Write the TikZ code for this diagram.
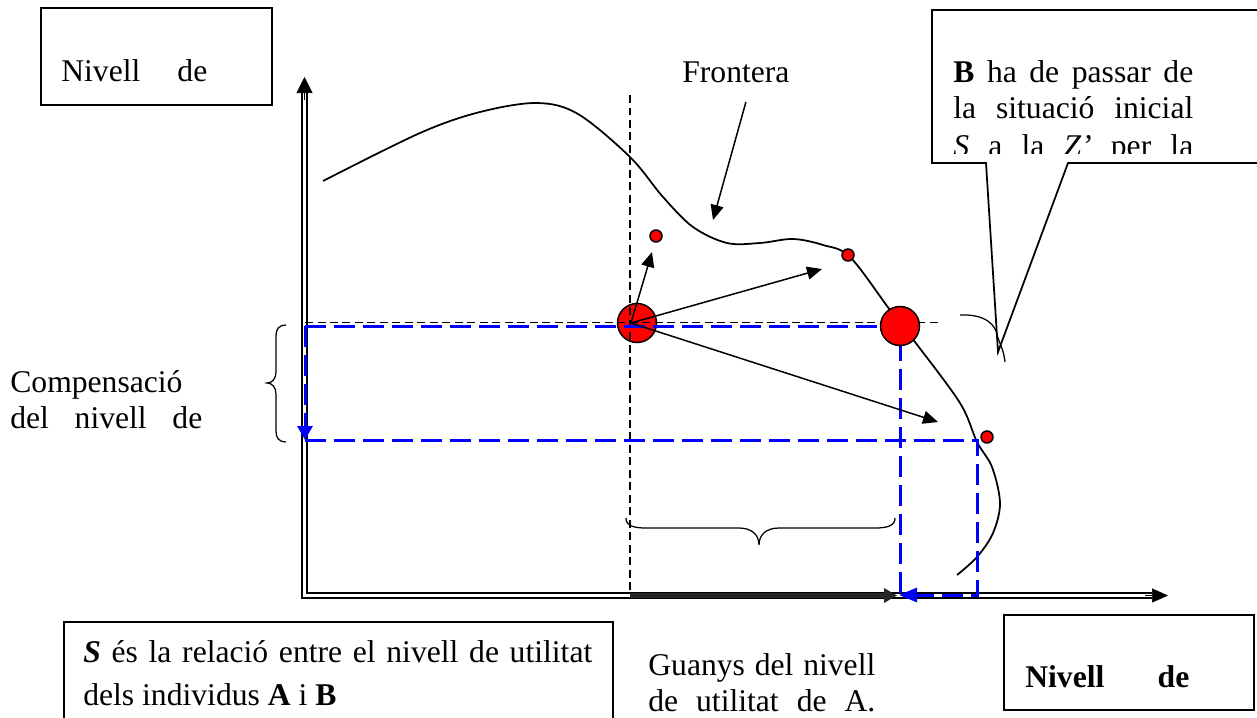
\documentclass[tikz,border=0pt]{standalone}
\usepackage{fontspec}
\setmainfont{Liberation Serif}
\usetikzlibrary{arrows.meta}

\begin{document}
\begin{tikzpicture}[x=0.02cm, y=-0.02cm,
        every node/.style={font=\fontsize{18}{22}\selectfont, inner sep=0pt},
        puntgran/.style={circle, draw, fill=red, line width=0.03cm, minimum size=0.78cm},
        puntpetit/.style={circle, draw, fill=red, line width=0.03cm, minimum size=0.24cm},
        fletxa/.style={line width=0.03cm, -{Triangle[length=0.3cm, width=0.26cm]}},
        negredash/.style={line width=0.025cm, dash pattern=on 0.16cm off 0.09cm},
        blaudash/.style={blue, line width=0.06cm, dash pattern=on 0.42cm off 0.16cm},
        caixa/.style={line width=0.035cm}]
        \useasboundingbox (0,0) rectangle (1257,717);

        % Eixos dobles
        \coordinate (O) at (304.5,595.5);
        \coordinate (ytop) at (304.5,77);
        \coordinate (xend) at (1168,595.5);
        \draw[line width=0.03cm, double, double distance=0.075cm] (304.5,92) -- (O) -- (1152,595.5);
        \draw[-{Triangle[length=0.32cm, width=0.32cm]}] (304.5,100) -- (ytop);
        \draw[-{Triangle[length=0.32cm, width=0.28cm]}] (1145,595.5) -- (xend);

        % Frontera
        \draw[line width=0.035cm] plot[smooth, tension=0.55] coordinates {
            (323,181) (420,133) (480,112) (537,103) (578,114) (630,157)
            (663,197) (693,227) (727,243) (760,243) (793,239) (823,245)
            (850,257) (890,310) (915,342) (960,403) (977,442) (992,467)
            (1000,503) (993,533) (977,557) (957,575)};

        % Situacio inicial S
        \node[puntgran] (S) at (637,323) {};

        % Linies de referencia
        \draw[negredash] (630,95) -- (630,593);
        \draw[negredash] (305,322.5) -- (938,322.5);
        \draw[blaudash] (305,326) -- (900,326) -- (900,595);
        \draw[blaudash, -{Triangle[length=0.36cm, width=0.28cm]}] (305,440) -- (977,440) -- (977,595) -- (899,595);
        \draw[blaudash, -{Triangle[length=0.28cm, width=0.3cm]}] (305,326) -- (305,440);
        \draw[line width=0.11cm, black!85, -{Triangle[length=0.26cm, width=0.28cm]}] (630,595.5) -- (897,595.5);

        % Punts
        \node[puntgran] (Z) at (900,326) {};
        \foreach \n/\x/\y in {p1/656/236, p2/848/255, p3/987/437} {
            \node[puntpetit] (\n) at (\x,\y) {};
        }

        % Fletxes des de S
        \coordinate (a1) at (652,252);
        \coordinate (a2) at (822,269);
        \coordinate (a3) at (938,422);
        \foreach \p in {a1,a2,a3} {
            \draw[fletxa] ([xshift=-0.12cm]S.center) -- (\p);
        }

        % Claus
        \draw[line width=0.025cm] (286,325) .. controls (279,325) and (276,329) .. (276,336) -- (276,372)
            .. controls (276,379) and (272,383) .. (267,383) .. controls (272,383) and (276,387) .. (276,394)
            -- (276,431) .. controls (276,438) and (279,442) .. (286,442);
        \draw[line width=0.025cm] (626,518) .. controls (626,525) and (632,528) .. (646,528) -- (739,528)
            .. controls (752,528) and (759,535) .. (759,545) .. controls (759,535) and (766,528) .. (779,528)
            -- (875,528) .. controls (889,528) and (895,525) .. (895,518);
        \draw[line width=0.025cm] (960,315) .. controls (985,314) and (996,324) .. (998,338)
            .. controls (1001,346) and (1004,352) .. (1005,362);

        % Etiquetes
        \node[anchor=base west] (front) at (682,82) {Frontera};
        \coordinate (fr) at (713,220);
        \draw[fletxa] ([xshift=0.2cm, yshift=-0.4cm]front.base) -- (fr);

        \draw[caixa] (41,8) rectangle (272,105);
        \node[anchor=base west] (nivA) at (61,81) {\makebox[2.92cm][s]{Nivell de}};

        \draw[caixa] (1265,163) -- (1068,163) -- (998,352) -- (986,163) -- (932,163) -- (932,10) -- (1265,10);
        \begin{scope}
            \clip (932,10) rectangle (1257,153);
            \node[anchor=base west] (cb1) at (953,82) {\makebox[4.8cm][s]{\textbf{B} ha de passar de}};
            \node[anchor=base west] (cb2) at (953,118) {\makebox[4.8cm][s]{la situació inicial}};
            \node[anchor=base west] (cb3) at (953,156) {\makebox[4.8cm][s]{\textit{S} a la \textit{Z’} per la}};
        \end{scope}

        \node[anchor=base west] (comp1) at (10,392) {Compensació};
        \node[anchor=base west] (comp2) at (10,428) {\makebox[3.84cm][s]{del nivell de}};

        \draw[caixa] (64,730) -- (64,622) -- (613,622) -- (613,730);
        \node[anchor=base west] (rel1) at (83,662) {\makebox[10.18cm][s]{\textbf{\textit{S}} és la relació entre el nivell de utilitat}};
        \node[anchor=base west] (rel2) at (83,705) {dels individus \textbf{A} i \textbf{B}};

        \node[anchor=base west] (guany1) at (648,675) {\makebox[4.54cm][s]{Guanys del nivell}};
        \node[anchor=base west] (guany2) at (648,711) {\makebox[4.54cm][s]{de utilitat de A.}};

        \draw[caixa] (1004,615) rectangle (1254,710);
        \node[anchor=base west] (nivB) at (1025,687) {\makebox[3.28cm][s]{\textbf{Nivell de}}};

    \end{tikzpicture}
\end{document}
